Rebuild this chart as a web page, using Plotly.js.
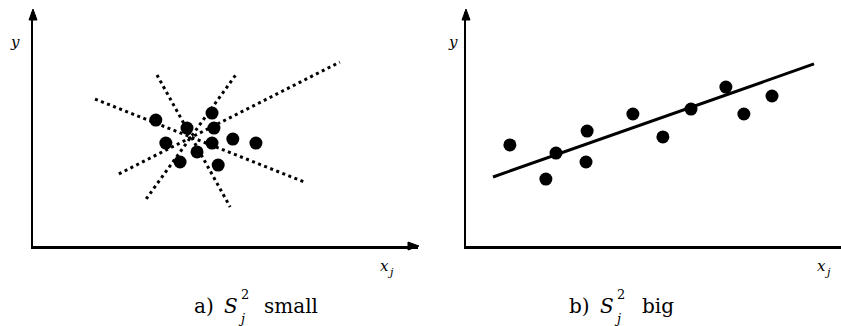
<!DOCTYPE html>
<html><head><meta charset="utf-8">
<script src="https://cdn.plot.ly/plotly-3.0.1.min.js"></script>
<style>html,body{margin:0;padding:0;background:#fff}</style>
</head><body><div id="chart" style="width:841px;height:326px"></div>
<script>
// Panel a: small spread of x_j -> many possible fitted lines
var aPointsX = [3.19, 4.00, 4.65, 4.70, 3.45, 4.65, 5.19, 5.79, 4.26, 3.82, 4.81];
var aPointsY = [5.38, 5.04, 5.68, 5.04, 4.40, 4.40, 4.57, 4.40, 4.02, 3.59, 3.46];
var aLinesX = [[1.61, 7.04], [2.23, 7.97], [3.22, 5.12], [2.94, 5.30]];
var aLinesY = [[6.28, 2.74], [3.08, 7.86], [7.31, 1.67], [2.01, 7.39]];
// Panel b: big spread of x_j -> one well-defined line
var bPointsX = [1.17, 2.40, 2.13, 3.23, 3.20, 4.45, 5.25, 6.00, 6.93, 7.41, 8.16];
var bPointsY = [4.32, 3.97, 2.86, 4.91, 3.59, 5.64, 4.66, 5.85, 6.79, 5.64, 6.41];
var bFitX = [0.72, 9.28];
var bFitY = [2.95, 7.78];
// Texts
var axisYLabel = 'y';
var axisXLabel = 'x';
var axisXSub = 'j';
var captionA = ['a)', 'S', '2', 'j', 'small'];
var captionB = ['b)', 'S', '2', 'j', 'big'];

var W = 841, H = 326;
function fx(p) { return p / W; }
function fy(p) { return 1 - p / H; }
var serif = 'DejaVu Serif';

var traces = [];
aLinesX.forEach(function (lx, i) {
  traces.push({x: lx, y: aLinesY[i], xaxis: 'x', yaxis: 'y', mode: 'lines',
    line: {color: '#000', width: 3, dash: '3px,3.5px'}, hoverinfo: 'skip'});
});
traces.push({x: aPointsX, y: aPointsY, xaxis: 'x', yaxis: 'y', mode: 'markers',
  marker: {color: '#000', size: 13}});
traces.push({x: bFitX, y: bFitY, xaxis: 'x2', yaxis: 'y2', mode: 'lines',
  line: {color: '#000', width: 3}});
traces.push({x: bPointsX, y: bPointsY, xaxis: 'x2', yaxis: 'y2', mode: 'markers',
  marker: {color: '#000', size: 13}});

function ax(domain, anchor) {
  return {domain: domain, anchor: anchor, range: [0, 10], showline: true, linecolor: '#000',
    linewidth: 2.5, showgrid: false, zeroline: false, showticklabels: false, ticks: '',
    fixedrange: true};
}

var ann = [];
function txt(t, x, y, size, italic, anchor) {
  ann.push({text: t, xref: 'paper', yref: 'paper',
    x: fx(x), y: fy(y), xanchor: anchor || 'left', yanchor: 'middle', showarrow: false,
    font: {family: serif, size: size, color: '#000', style: italic ? 'italic' : 'normal'}});
}
// axis arrowheads as small filled triangles
var shapes = [];
function tri(p) {
  var d = 'M ' + fx(p[0][0]) + ',' + fy(p[0][1]) + ' L ' + fx(p[1][0]) + ',' + fy(p[1][1]) +
    ' L ' + fx(p[2][0]) + ',' + fy(p[2][1]) + ' Z';
  shapes.push({type: 'path', xref: 'paper', yref: 'paper', path: d,
    fillcolor: '#000', line: {color: '#000', width: 1}});
}
tri([[33, 9], [29, 20], [37, 20]]);
tri([[419, 246], [408, 242], [408, 250]]);
tri([[466, 9], [462, 20], [470, 20]]);
// axis labels
txt(axisYLabel, 15, 42, 15, true, 'center');
txt(axisYLabel, 453, 42, 15, true, 'center');
txt(axisXLabel, 384, 266, 15, true, 'center');
txt(axisXSub, 390, 272, 11, true, 'center');
txt(axisXLabel, 821, 266, 15, true, 'center');
txt(axisXSub, 827, 272, 11, true, 'center');
// captions: label, italic S, stacked superscript 2 and subscript j, word
function caption(c, xs) {
  txt(c[0], xs[0], 306, 20, false);
  txt(c[1], xs[1], 306, 20, true);
  txt(c[2], xs[2], 294, 13, false);
  txt(c[3], xs[3], 318, 13, true);
  txt(c[4], xs[4], 306, 20, false);
}
caption(captionA, [192, 222, 239, 236, 262]);
caption(captionB, [567, 598, 615, 612, 640]);

var layout = {
  width: W, height: H, margin: {l: 0, r: 0, t: 0, b: 0},
  paper_bgcolor: '#fff', plot_bgcolor: 'rgba(0,0,0,0)', showlegend: false,
  font: {family: serif, color: '#000'},
  xaxis: ax([33 / W, 418 / W], 'y'),
  yaxis: ax([fy(246), fy(12)], 'x'),
  xaxis2: ax([466 / W, 1], 'y2'),
  yaxis2: ax([fy(246), fy(12)], 'x2'),
  annotations: ann, shapes: shapes
};
Plotly.newPlot('chart', traces, layout, {displayModeBar: false, staticPlot: true});
</script></body></html>
